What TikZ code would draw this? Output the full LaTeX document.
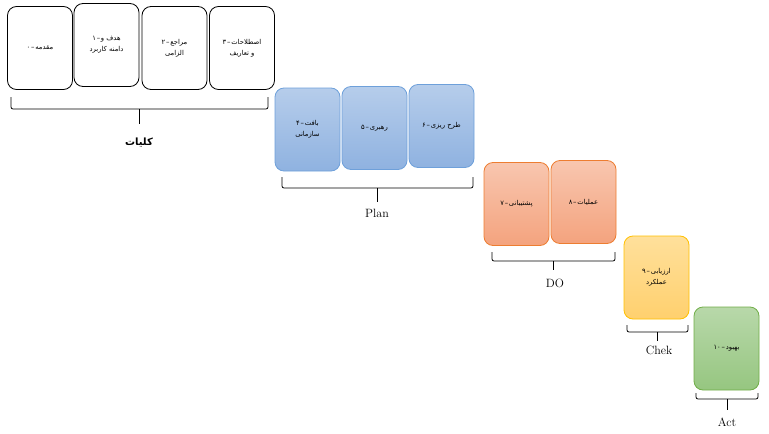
\documentclass[tikz,border=0pt]{standalone}
\usepackage{fontspec}
\TeXXeTstate=1
\newfontfamily\fa[Script=Arabic]{DejaVu Sans}
\definecolor{bluebd}{RGB}{110,160,218}
\definecolor{bluetop}{RGB}{182,205,235}
\definecolor{bluebot}{RGB}{143,178,224}
\definecolor{orbd}{RGB}{237,125,49}
\definecolor{ortop}{RGB}{248,198,175}
\definecolor{orbot}{RGB}{244,163,126}
\definecolor{yebd}{RGB}{255,192,0}
\definecolor{yetop}{RGB}{255,224,155}
\definecolor{yebot}{RGB}{255,208,110}
\definecolor{grbd}{RGB}{112,173,71}
\definecolor{grtop}{RGB}{184,216,170}
\definecolor{grbot}{RGB}{150,198,128}
\newcommand{\num}[1]{\mbox{#1}\kern0.8pt\mbox{–}\kern0.8pt}
\newcommand{\rl}[1]{\mbox{\beginR #1\endR}}
\tikzset{
  box/.style={draw, rounded corners=9pt, minimum width=65pt, minimum height=83pt,
    inner sep=1pt, align=center, line width=0.8pt,
    font=\fa\fontsize{6.8}{11}\selectfont},
  wbox/.style={box, draw=black, fill=white},
  bbox/.style={box, draw=bluebd, top color=bluetop, bottom color=bluebot},
  obox/.style={box, draw=orbd, top color=ortop, bottom color=orbot},
  ybox/.style={box, draw=yebd, top color=yetop, bottom color=yebot},
  gbox/.style={box, draw=grbd, top color=grtop, bottom color=grbot},
  brk/.style={draw=black, line width=0.8pt, rounded corners=2pt},
  lbl/.style={font=\fontsize{12}{14}\selectfont, inner sep=0pt}
}
\begin{document}
\begin{tikzpicture}[x=1pt,y=-1pt]
\useasboundingbox (0,0) rectangle (769,434);
% general
\node[wbox] (b0) at (40,48) {\num{۰}\rl{مقدمه}};
\node[wbox] (b1) at (106.5,45) {\num{۱}\rl{هدف و}\\\rl{دامنه کاربرد}};
\node[wbox] (b2) at (174.5,48) {\num{۲}\rl{مراجع}\\\rl{الزامی}};
\node[wbox] (b3) at (242,48) {\num{۳}\rl{اصطلاحات}\\\rl{و تعاریف}};
% plan
\node[bbox] (b4) at (307.5,129.5) {\num{۴}\rl{بافت}\\\rl{سازمانی}};
\node[bbox] (b5) at (374.5,128) {\num{۵}\rl{رهبری}};
\node[bbox] (b6) at (441.5,126) {\num{۶}\rl{طرح ریزی}};
% do
\node[obox] (b7) at (516.5,204) {\num{۷}\rl{پشتیبانی}};
\node[obox] (b8) at (583.5,202) {\num{۸}\rl{عملیات}};
% check
\node[ybox] (b9) at (656.5,277.5) {\num{۹}\rl{ارزیابی}\\\rl{عملکرد}};
% act
\node[gbox] (b10) at (726.5,348.5) {\num{۱۰}\rl{بهبود}};
% labels
\node[inner sep=0pt, font=\fa\bfseries\fontsize{10}{12}\selectfont] (lk) at (139,143) {\rl{کلیات}};
\node[lbl] (lp) at (377,213) {Plan};
\node[lbl] (ld) at (555,283) {DO};
\node[lbl] (lc) at (659,350) {Chek};
\node[lbl] (la) at (727,422) {Act};
% brackets
\draw[brk] (11,97) -- (11,109) -- (268,109) -- (268,97);
\draw[brk] (139,109) -- (139,124);
\draw[brk] (282,177) -- (282,188) -- (473,188) -- (473,177);
\draw[brk] (377,188) -- (377,202);
\draw[brk] (492,252) -- (492,261) -- (615,261) -- (615,252);
\draw[brk] (553,261) -- (553,270);
\draw[brk] (627,325) -- (627,332) -- (688,332) -- (688,325);
\draw[brk] (657,332) -- (657,341);
\draw[brk] (696,393) -- (696,399) -- (758,399) -- (758,393);
\draw[brk] (727,399) -- (727,410);
\end{tikzpicture}
\end{document}
